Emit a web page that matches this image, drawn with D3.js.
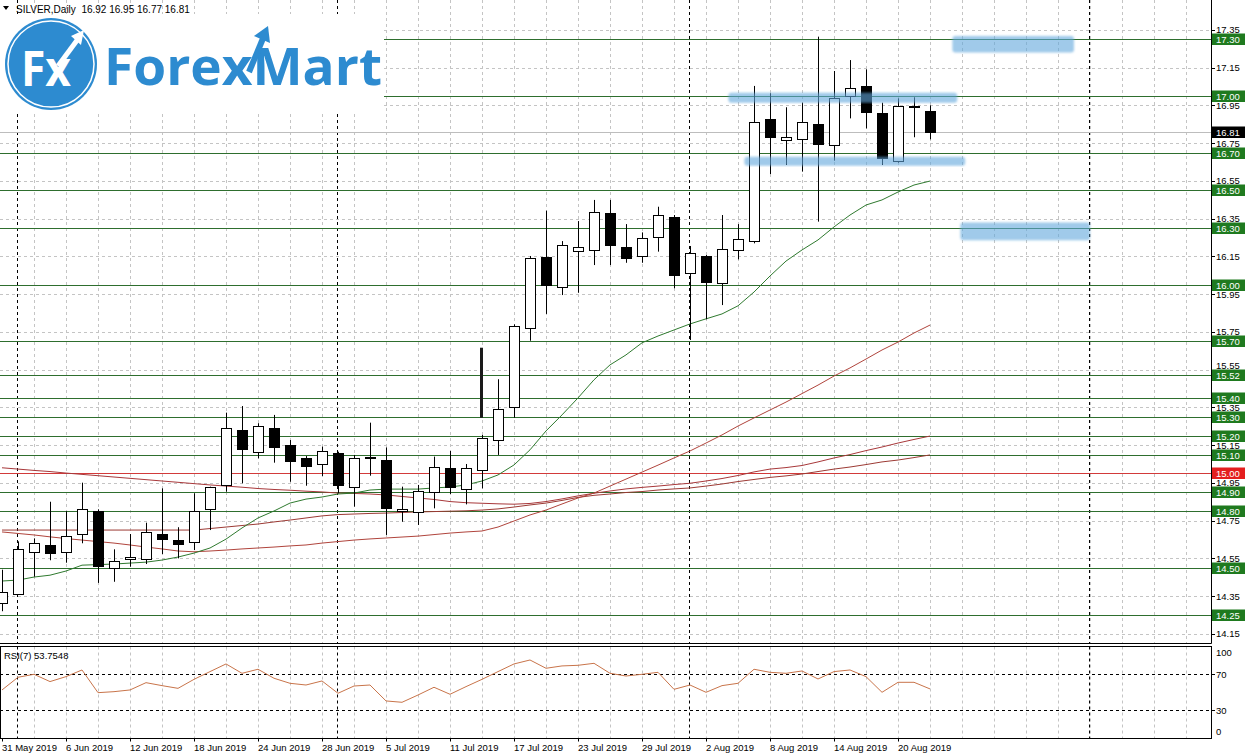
<!DOCTYPE html>
<html>
<head>
<meta charset="utf-8">
<title>SILVER Daily</title>
<style>
  body { margin: 0; background: #fff; }
  text { font-family: "Liberation Sans", Arial, sans-serif; }
</style>
</head>
<body>
<div id="chart"></div>
<script src="https://d3js.org/d3.v7.min.js"></script>
<script>
// daily bars, 31 May 2019 .. 22 Aug 2019
const opens  = [14.31,14.36,14.585,14.621,14.585,14.678,14.80,14.50,14.545,14.545,14.679,14.647,14.635,14.81,14.939,15.23,15.115,15.239,15.15,15.08,
                15.048,15.107,14.927,15.083,15.071,14.801,14.797,14.903,15.027,14.916,15.018,15.177,15.35,15.769,16.148,15.986,16.175,16.187,16.378,16.198,
                16.148,16.254,16.357,16.06,16.152,16.007,16.18,16.228,16.878,16.77,16.77,16.851,16.736,17.00,17.053,16.908,16.657,16.94,16.92];
const highs  = [14.49,14.64,14.656,14.85,14.80,14.951,14.81,14.598,14.679,14.739,14.921,14.715,14.895,14.93,15.322,15.357,15.266,15.31,15.177,15.092,
                15.142,15.115,15.098,15.269,15.138,14.93,14.939,15.089,15.119,15.05,15.204,15.499,15.79,16.152,16.392,16.231,16.337,16.449,16.449,16.321,
                16.277,16.413,16.369,16.205,16.157,16.369,16.321,17.053,17.014,16.94,16.964,17.314,17.132,17.19,17.141,16.964,16.987,16.993,16.95];
const lows   = [14.27,14.36,14.453,14.54,14.527,14.63,14.42,14.426,14.506,14.52,14.573,14.55,14.594,14.70,14.903,14.948,15.08,15.057,14.956,14.935,
                14.986,14.895,14.824,14.988,14.674,14.744,14.727,14.815,14.891,14.836,14.921,15.098,15.295,15.703,15.845,15.945,15.957,16.104,16.104,16.116,
                16.116,16.175,15.981,15.707,15.817,15.892,16.134,16.219,16.586,16.634,16.599,16.334,16.657,16.881,16.828,16.634,16.646,16.781,16.77];
const closes = [14.37,14.60,14.633,14.577,14.668,14.812,14.51,14.538,14.556,14.688,14.653,14.628,14.801,14.927,15.239,15.128,15.251,15.136,15.067,15.036,
                15.119,14.935,15.08,15.087,14.815,14.813,14.907,15.036,14.927,15.027,15.186,15.34,15.781,16.14,15.998,16.21,16.198,16.387,16.207,16.138,
                16.246,16.369,16.048,16.166,16.016,16.187,16.24,16.86,16.784,16.784,16.86,16.745,16.987,17.04,16.916,16.67,16.948,16.945,16.81];

// moving averages (green fast, three red slower ones)
const maGreen = [14.430,14.435,14.451,14.461,14.483,14.514,14.517,14.520,14.525,14.530,14.541,14.557,14.578,14.605,14.652,14.711,14.764,14.801,14.843,14.864,
                 14.875,14.891,14.896,14.912,14.917,14.917,14.917,14.923,14.928,14.939,14.960,14.992,15.045,15.125,15.225,15.310,15.400,15.496,15.575,15.628,
                 15.692,15.728,15.760,15.792,15.819,15.845,15.888,15.961,16.046,16.125,16.184,16.237,16.306,16.369,16.422,16.449,16.491,16.528,16.549];
const maRed1  = [14.690,14.682,14.674,14.664,14.655,14.647,14.639,14.631,14.621,14.610,14.600,14.589,14.585,14.589,14.594,14.600,14.605,14.610,14.616,14.621,
                 14.631,14.639,14.647,14.653,14.658,14.663,14.668,14.676,14.684,14.690,14.695,14.716,14.748,14.780,14.806,14.838,14.870,14.896,14.933,14.970,
                 15.007,15.044,15.082,15.119,15.161,15.204,15.251,15.294,15.336,15.378,15.423,15.468,15.516,15.559,15.606,15.654,15.696,15.744,15.786];
const maRed2  = [15.030,15.023,15.016,15.010,15.002,14.995,14.988,14.981,14.974,14.967,14.960,14.953,14.946,14.939,14.933,14.927,14.920,14.915,14.911,14.906,
                 14.902,14.896,14.894,14.891,14.886,14.878,14.870,14.862,14.851,14.845,14.842,14.839,14.837,14.841,14.851,14.865,14.881,14.895,14.907,14.918,
                 14.926,14.933,14.941,14.948,14.960,14.973,14.989,15.008,15.023,15.031,15.042,15.061,15.082,15.100,15.121,15.140,15.161,15.180,15.198];
const maRed3  = [14.700,14.700,14.700,14.700,14.700,14.700,14.700,14.700,14.700,14.700,14.700,14.700,14.700,14.708,14.716,14.724,14.732,14.743,14.753,14.764,
                 14.775,14.782,14.785,14.788,14.790,14.793,14.796,14.798,14.800,14.802,14.806,14.812,14.822,14.833,14.843,14.857,14.873,14.884,14.891,14.899,
                 14.904,14.912,14.918,14.923,14.933,14.944,14.957,14.968,14.979,14.987,14.997,15.010,15.023,15.034,15.047,15.061,15.071,15.084,15.098];

const rsi7 = [52.6,66.7,70,61.9,67.4,74.8,49.6,50.7,52.6,60.7,57.4,54.4,64.4,73,81.5,71.1,75.6,65.6,60,58.1,
              62.6,48.9,57,58.1,40.4,38.9,47,55.6,47.8,56.3,64.4,73,81.5,85.9,76.7,79.3,80,82.2,71.1,68.1,
              70,72.2,53.3,58.1,50,57.4,60,75.6,72.2,71.1,73.7,64.8,73,74.8,67.4,50,61.1,61.1,53.7548];

const dateLabels = ['31 May 2019','6 Jun 2019','12 Jun 2019','18 Jun 2019','24 Jun 2019','28 Jun 2019','5 Jul 2019','11 Jul 2019',
                    '17 Jul 2019','23 Jul 2019','29 Jul 2019','2 Aug 2019','8 Aug 2019','14 Aug 2019','20 Aug 2019'];
const dateLabelBars = [0,4,8,12,16,20,24,28,32,36,40,44,48,52,56];
const monthStarts = [1,21,43,68];

const priceTicks = [17.35,17.15,16.95,16.75,16.55,16.35,16.15,15.95,15.75,15.55,15.35,15.15,14.95,14.75,14.55,14.35,14.15];
const greenLevels = [17.30,17.00,16.70,16.50,16.30,16.00,15.70,15.52,15.40,15.30,15.20,15.10,14.90,14.80,14.50,14.25];
const redLevels = [15.00];
const bidPrice = 16.81;
const rsiTicks = [100,70,30,0];
const rsiLevels = [70,30];

// hand drawn highlight zones: bar range and price range
const zoneFrom = [59.4,45.4,46.4,59.9];
const zoneTo   = [67.0,59.7,60.2,68.0];
const zoneHigh = [17.317,17.017,16.678,16.33];
const zoneLow  = [17.23,16.964,16.63,16.235];

// stray black marker on bar 30
const markBar = [30];
const markTop = [15.666];
const markBottom = [15.295];

const header = 'SILVER,Daily  16.92 16.95 16.77 16.81';
const rsiTitle = 'RSI(7) 53.7548';

let w = 1246, h = 756;
const svg = d3.select('#chart').append('svg')
    .attr('width', w).attr('height', h)
    .style('display', 'block');

const panel = {left: 0, right: 1211, top: 0, bottom: 643};
const rsiPanel = {top: 646.5, bottom: 738.5};

const x = d3.scaleLinear().domain([0, 58]).range([2, 930]);
const y = d3.scaleLinear().domain([14.25, 17.30]).range([615.0, 39.3]);
const yr = d3.scaleLinear().domain([0, 100]).range([737.3, 647.3]);
const px = v => Math.round(v) + 0.5;

const defs = svg.append('defs');
defs.append('filter').attr('id', 'soft')
    .append('feGaussianBlur').attr('stdDeviation', 1.2);
defs.append('clipPath').attr('id', 'clipMain').append('rect')
    .attr('x', 0).attr('y', 0).attr('width', panel.right).attr('height', panel.bottom);
defs.append('clipPath').attr('id', 'clipRsi').append('rect')
    .attr('x', 0).attr('y', rsiPanel.top).attr('width', panel.right).attr('height', rsiPanel.bottom - rsiPanel.top);

const main = svg.append('g').attr('clip-path', 'url(#clipMain)');
const lower = svg.append('g').attr('clip-path', 'url(#clipRsi)');

// vertical grid every 2 bars
const vgrid = d3.range(2, 76, 2);
[[main, panel.top, panel.bottom], [lower, rsiPanel.top, rsiPanel.bottom]].forEach(([g, t, b]) => {
    g.selectAll(null).data(vgrid).enter().append('line')
        .attr('x1', d => px(x(d))).attr('x2', d => px(x(d)))
        .attr('y1', t).attr('y2', b)
        .attr('stroke', '#c4c4c4').attr('stroke-dasharray', '3,3');
});

// horizontal grid at price ticks
main.selectAll(null).data(priceTicks).enter().append('line')
    .attr('x1', 0).attr('x2', panel.right)
    .attr('y1', d => px(y(d))).attr('y2', d => px(y(d)))
    .attr('stroke', '#c4c4c4').attr('stroke-dasharray', '3,3');

// month separators
[[main, panel.top, panel.bottom], [lower, rsiPanel.top, rsiPanel.bottom]].forEach(([g, t, b]) => {
    g.selectAll(null).data(monthStarts).enter().append('line')
        .attr('x1', d => px(x(d) - 1)).attr('x2', d => px(x(d) - 1))
        .attr('y1', t).attr('y2', b)
        .attr('stroke', '#000').attr('stroke-dasharray', '3,3');
});

// bid line
main.append('line')
    .attr('x1', 0).attr('x2', panel.right)
    .attr('y1', px(y(bidPrice))).attr('y2', px(y(bidPrice)))
    .attr('stroke', '#bdbdbd');

// level lines
main.selectAll(null).data(greenLevels).enter().append('line')
    .attr('x1', 0).attr('x2', panel.right)
    .attr('y1', d => px(y(d))).attr('y2', d => px(y(d)))
    .attr('stroke', '#2e6e2e');
main.selectAll(null).data(redLevels).enter().append('line')
    .attr('x1', 0).attr('x2', panel.right)
    .attr('y1', d => px(y(d))).attr('y2', d => px(y(d)))
    .attr('stroke', '#d23a3a');

// moving averages
const line = d3.line().x((d, i) => x(i)).y(d => y(d));
[[maRed3, '#9c3a34'], [maRed2, '#a8383a'], [maRed1, '#b0443c'], [maGreen, '#2f7a2f']].forEach(([arr, col]) => {
    main.append('path').datum(arr).attr('d', line)
        .attr('fill', 'none').attr('stroke', col).attr('stroke-width', 1);
});

// candles
const bars = d3.range(opens.length);
const cg = main.append('g');
cg.selectAll('line.wick').data(bars).enter().append('line')
    .attr('class', 'wick')
    .attr('x1', i => px(x(i))).attr('x2', i => px(x(i)))
    .attr('y1', i => y(highs[i])).attr('y2', i => y(lows[i]))
    .attr('stroke', '#000');
cg.selectAll('rect.body').data(bars).enter().append('rect')
    .attr('class', 'body')
    .attr('x', i => px(x(i)) - 5)
    .attr('y', i => Math.round(y(Math.max(opens[i], closes[i]))) + 0.5)
    .attr('width', 10)
    .attr('height', i => Math.max(1, Math.round(Math.abs(y(opens[i]) - y(closes[i])))))
    .attr('fill', i => closes[i] >= opens[i] ? '#fff' : '#000')
    .attr('stroke', '#000');

main.selectAll(null).data(markBar).enter().append('rect')
    .attr('x', d => x(d) - 2).attr('width', 3)
    .attr('y', (d, k) => y(markTop[k]))
    .attr('height', (d, k) => y(markBottom[k]) - y(markTop[k]))
    .attr('fill', '#1a1a1a');

// highlight zones
main.selectAll(null).data(zoneFrom).enter().append('rect')
    .attr('x', (d) => x(d))
    .attr('width', (d, k) => x(zoneTo[k]) - x(d))
    .attr('y', (d, k) => y(zoneHigh[k]))
    .attr('height', (d, k) => y(zoneLow[k]) - y(zoneHigh[k]))
    .attr('rx', 3)
    .attr('fill', '#5fa6dc').attr('fill-opacity', 0.6)
    .attr('filter', 'url(#soft)');

// logo
const logo = svg.append('g');
logo.append('rect').attr('x', 0).attr('y', 14).attr('width', 384).attr('height', 98).attr('fill', '#fff');
logo.append('circle').attr('cx', 51).attr('cy', 64).attr('r', 46).attr('fill', '#2d8bd0');
logo.append('circle').attr('cx', 51).attr('cy', 64).attr('r', 43).attr('fill', 'none')
    .attr('stroke', '#fff').attr('stroke-width', 1.5);
logo.append('text').attr('x', 21).attr('y', 86).text('Fx')
    .attr('fill', '#fff').attr('font-size', 48).attr('font-weight', 700)
    .attr('textLength', 50).attr('lengthAdjust', 'spacingAndGlyphs')
    .style('font-family', '"Open Sans", "Liberation Sans", sans-serif');
logo.append('line').attr('x1', 58).attr('y1', 66).attr('x2', 78).attr('y2', 39)
    .attr('stroke', '#fff').attr('stroke-width', 5);
logo.append('path').attr('d', 'M71,36 L84,30 L81,45 Z').attr('fill', '#fff');
logo.append('text').attr('x', 104).attr('y', 85).text('ForexMart')
    .attr('fill', '#2d8bd0').attr('font-size', 52).attr('font-weight', 700)
    .attr('textLength', 278).attr('lengthAdjust', 'spacingAndGlyphs')
    .style('font-family', '"Open Sans", "Liberation Sans", sans-serif');
logo.append('line').attr('x1', 249).attr('y1', 72).attr('x2', 264).attr('y2', 36)
    .attr('stroke', '#2d8bd0').attr('stroke-width', 6);
logo.append('path').attr('d', 'M254,36 L268,26 L270,43 Z').attr('fill', '#2d8bd0');

// header
svg.append('path').attr('d', 'M3,6 L9,6 L6,10 Z').attr('fill', '#000');
svg.append('text').attr('x', 16).attr('y', 13).text(header)
    .attr('font-size', 10).attr('fill', '#000').attr('xml:space', 'preserve');

// rsi
lower.selectAll(null).data(rsiLevels).enter().append('line')
    .attr('x1', 0).attr('x2', panel.right)
    .attr('y1', d => px(yr(d))).attr('y2', d => px(yr(d)))
    .attr('stroke', '#000').attr('stroke-dasharray', '3,3');
lower.append('path').datum(rsi7)
    .attr('d', d3.line().x((d, i) => x(i)).y(d => yr(d)))
    .attr('fill', 'none').attr('stroke', '#c8744a').attr('stroke-width', 1);
svg.append('text').attr('x', 4).attr('y', 659).text(rsiTitle)
    .attr('font-size', 9.5).attr('fill', '#000');

// frames (no top edge on the price panel)
const frame = svg.append('g').attr('stroke', '#000').attr('fill', 'none');
frame.append('line').attr('x1', panel.right + 0.5).attr('x2', panel.right + 0.5).attr('y1', 0).attr('y2', panel.bottom + 0.5);
frame.append('line').attr('x1', 0).attr('x2', panel.right + 0.5).attr('y1', panel.bottom + 0.5).attr('y2', panel.bottom + 0.5);
frame.append('rect').attr('x', 0.5).attr('y', rsiPanel.top).attr('width', panel.right)
    .attr('height', rsiPanel.bottom - rsiPanel.top);

// right price axis
const ax = svg.append('g');
const allLevels = greenLevels.concat(redLevels, [bidPrice]);
// tick labels that sit just above a level box are lifted clear of it
function tickBaseline(d) {
    const yt = y(d);
    let base = yt + 3.5;
    allLevels.forEach(l => {
        const top = Math.round(y(l)) - 5.5;
        if (top > yt - 4 && top < base + 1) base = Math.min(base, top - 0.5);
    });
    return base;
}
ax.selectAll(null).data(priceTicks).enter().append('line')
    .attr('x1', panel.right).attr('x2', panel.right + 4)
    .attr('y1', d => px(y(d))).attr('y2', d => px(y(d))).attr('stroke', '#000');
ax.selectAll(null).data(priceTicks).enter().append('text')
    .attr('x', 1216).attr('y', tickBaseline)
    .text(d => d.toFixed(2)).attr('font-size', 9.5).attr('fill', '#000');

function levelBox(vals, fill, txt) {
    const g = ax.selectAll(null).data(vals).enter().append('g');
    g.append('rect').attr('x', 1212).attr('y', d => Math.round(y(d)) - 5.5)
        .attr('width', 33).attr('height', 11.5).attr('fill', fill);
    g.append('text').attr('x', 1216).attr('y', d => y(d) + 4)
        .text(d => d.toFixed(2)).attr('font-size', 9.5).attr('fill', txt);
}
levelBox(greenLevels, '#1f7a1f', '#fff');
levelBox(redLevels, '#e41e1e', '#fff');
levelBox([bidPrice], '#000', '#fff');

// rsi axis
ax.selectAll(null).data(rsiTicks).enter().append('text')
    .attr('x', 1216).attr('y', d => Math.min(735, Math.max(656, yr(d) + 3.5)))
    .text(d => d).attr('font-size', 9.5).attr('fill', '#000');
ax.selectAll(null).data(rsiLevels).enter().append('line')
    .attr('x1', panel.right).attr('x2', panel.right + 4)
    .attr('y1', d => px(yr(d))).attr('y2', d => px(yr(d))).attr('stroke', '#000');

// date axis
ax.selectAll(null).data(dateLabelBars).enter().append('line')
    .attr('x1', d => px(x(d))).attr('x2', d => px(x(d)))
    .attr('y1', rsiPanel.bottom).attr('y2', rsiPanel.bottom + 3).attr('stroke', '#000');
ax.selectAll(null).data(dateLabelBars).enter().append('text')
    .attr('x', d => x(d)).attr('y', 751)
    .text((d, k) => dateLabels[k]).attr('font-size', 9.5).attr('fill', '#000');
</script>
</body>
</html>
